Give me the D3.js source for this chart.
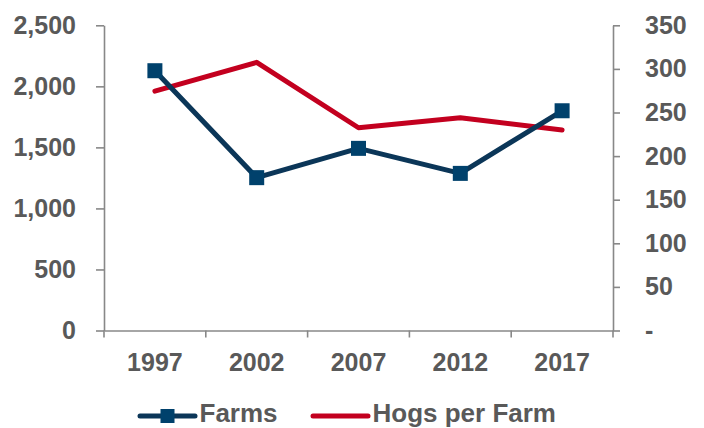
<!DOCTYPE html>
<html>
<head>
<meta charset="utf-8">
<script src="https://cdn.jsdelivr.net/npm/d3@7"></script>
<style>
  html, body { margin: 0; padding: 0; background: #ffffff; }
  svg { display: block; }
  text { font-family: "Liberation Sans", Arial, sans-serif; font-weight: bold; fill: #595959; }
</style>
</head>
<body>
<svg id="chart" width="704" height="428"></svg>
<script>
const years = ["1997", "2002", "2007", "2012", "2017"];
const farms = [2128, 1252, 1492, 1287, 1800];
const hogsPerFarm = [274.5, 307.5, 232.5, 244, 230];
const leftTicks = [0, 500, 1000, 1500, 2000, 2500];
const rightTicks = [0, 50, 100, 150, 200, 250, 300, 350];
const seriesNames = ["Farms", "Hogs per Farm"];

const navy = "#0b3658";
const markerBlue = "#00416c";
const red = "#c3001f";
const axisGrey = "#888888";

const svg = d3.select("#chart");
const plotLeft = 104, plotRight = 613, plotTop = 25.3, plotBottom = 330.5;

const x = d3.scaleBand().domain(years).range([plotLeft, plotRight]);
const yL = d3.scaleLinear().domain([0, 2500]).range([plotBottom, plotTop]);
const yR = d3.scaleLinear().domain([0, 350]).range([plotBottom, plotTop]);
const cx = d => x(d) + x.bandwidth() / 2;

// Left axis
const gL = svg.append("g").attr("transform", `translate(${plotLeft},0)`)
  .call(d3.axisLeft(yL).tickValues(leftTicks).tickFormat(d3.format(",")).tickSize(8).tickSizeOuter(0).tickPadding(20));
// Right axis
const gR = svg.append("g").attr("transform", `translate(${plotRight},0)`)
  .call(d3.axisRight(yR).tickValues(rightTicks).tickFormat(d => d === 0 ? "-" : d3.format(",")(d)).tickSize(7).tickSizeOuter(0).tickPadding(25));
// Bottom axis (labels)
const gB = svg.append("g").attr("transform", `translate(0,${plotBottom})`)
  .call(d3.axisBottom(x).tickSize(0).tickSizeOuter(0).tickPadding(23));
// Bottom tick marks at band boundaries
const bounds = years.map(d => x(d)).concat([x.range()[1]]);
gB.selectAll("line.bt").data(bounds).enter().append("line")
  .attr("class", "bt").attr("x1", d => d).attr("x2", d => d).attr("y1", 0).attr("y2", 7);

[gL, gR, gB].forEach(g => {
  g.selectAll("path.domain").attr("stroke", axisGrey).attr("stroke-width", 1.6);
  g.selectAll("line").attr("stroke", axisGrey).attr("stroke-width", 1.6);
  g.selectAll("text").attr("font-size", 25).attr("fill", "#595959")
    .attr("font-family", "Liberation Sans, Arial, sans-serif").attr("font-weight", "bold");
});

// Lines
const lineL = d3.line().x((d, i) => cx(years[i])).y(d => yL(d));
const lineR = d3.line().x((d, i) => cx(years[i])).y(d => yR(d));

svg.append("path").datum(hogsPerFarm).attr("d", lineR)
  .attr("fill", "none").attr("stroke", red).attr("stroke-width", 5)
  .attr("stroke-linecap", "round").attr("stroke-linejoin", "round");

svg.append("path").datum(farms).attr("d", lineL)
  .attr("fill", "none").attr("stroke", navy).attr("stroke-width", 5)
  .attr("stroke-linecap", "round").attr("stroke-linejoin", "round");

const ms = 15;
svg.selectAll("rect.mk").data(farms).enter().append("rect")
  .attr("class", "mk")
  .attr("x", (d, i) => cx(years[i]) - ms / 2)
  .attr("y", d => yL(d) - ms / 2)
  .attr("width", ms).attr("height", ms)
  .attr("fill", markerBlue);

// Legend
const ly = 416;
const leg = svg.append("g");
leg.append("line").attr("x1", 140).attr("x2", 195).attr("y1", ly).attr("y2", ly)
  .attr("stroke", navy).attr("stroke-width", 5).attr("stroke-linecap", "round");
leg.append("rect").attr("x", 160.5).attr("y", ly - 7).attr("width", 14).attr("height", 14).attr("fill", markerBlue);
leg.append("text").attr("x", 199.5).attr("y", 422).attr("font-size", 26).text(seriesNames[0]);

leg.append("line").attr("x1", 313).attr("x2", 368).attr("y1", ly).attr("y2", ly)
  .attr("stroke", red).attr("stroke-width", 5).attr("stroke-linecap", "round");
leg.append("text").attr("x", 372.5).attr("y", 422).attr("font-size", 26).text(seriesNames[1]);
</script>
</body>
</html>
